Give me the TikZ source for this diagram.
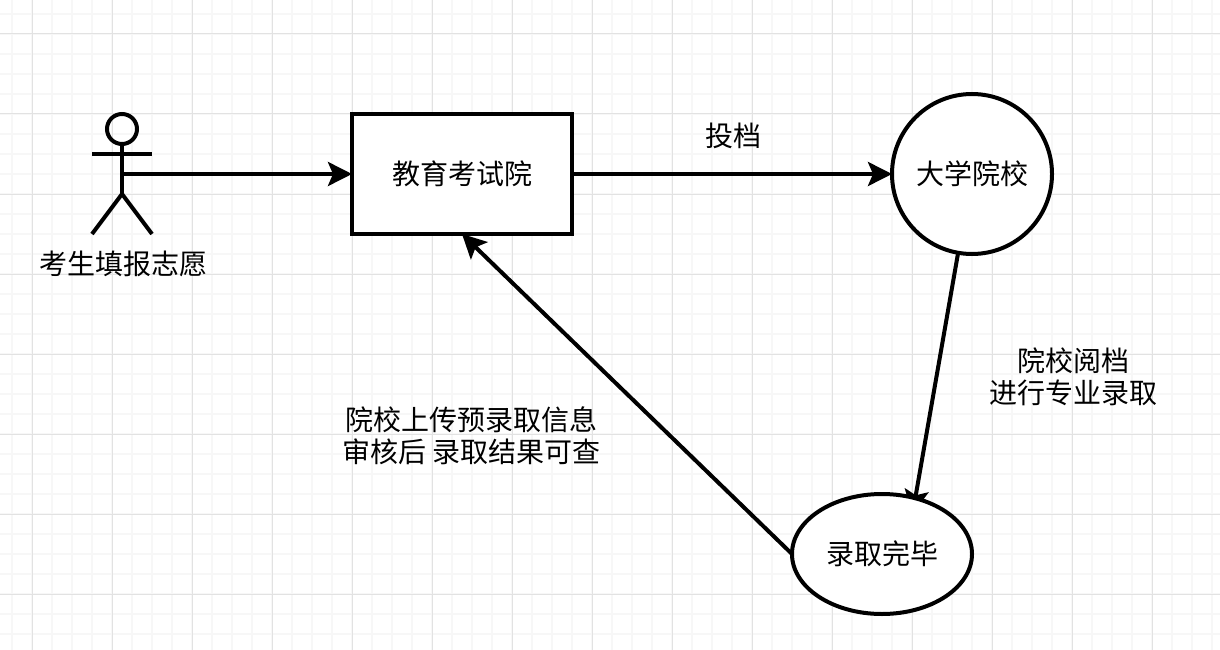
\documentclass[tikz,border=0pt]{standalone}
\usepackage{fontspec}
\setmainfont{Noto Sans CJK SC}
\usetikzlibrary{arrows.meta,shapes.geometric}
\pgfdeclarelayer{gridlayer}
\pgfdeclarelayer{linklayer}
\pgfsetlayers{gridlayer,linklayer,main}
\definecolor{gridmajor}{HTML}{E2E2E2}
\definecolor{gridminor}{HTML}{F7F7F7}
\tikzset{
  shapeline/.style={draw=black,line width=4pt,fill=white,inner sep=0pt,outer sep=0pt},
  label text/.style={font=\fontsize{28}{32}\selectfont,text=black,inner sep=0pt,align=center},
  link/.style={draw=black,line width=4pt,-{Stealth[length=24pt,width=24pt,inset=5pt]}},
  limb/.style={draw=black,line width=4pt}
}
\begin{document}
\begin{tikzpicture}[x=1pt,y=-1pt]
\useasboundingbox (0,0) rectangle (1220,650);
% nodes
\node[draw=black,line width=4pt,circle,minimum size=30pt,inner sep=0pt,outer sep=0pt] (head) at (122,129) {};
\coordinate (hip) at (122,194);
\coordinate (waist) at (122,174);
\coordinate (handL) at (92,154);
\coordinate (handR) at (152,154);
\coordinate (footL) at (92,234);
\coordinate (footR) at (152,234);
\draw[limb] (head.south) -- (hip);
\draw[limb] (handL) -- (handR);
\draw[limb] (footL) -- (hip) -- (footR);
\node[label text] (actorlabel) at (123,264) {考生填报志愿};
\node[shapeline,rectangle,minimum width=220pt,minimum height=120pt,label text] (exam) at (462,174) {教育考试院};
\node[shapeline,circle,minimum size=160pt,label text] (univ) at (972,174) {大学院校};
\node[shapeline,ellipse,minimum width=180pt,minimum height=120pt,label text] (done) at (882,554) {录取完毕};
\node[label text] (l1) at (733,136) {投档};
\node[label text] (l2) at (1073.5,376.5) {院校阅档\\进行专业录取};
\node[label text] (l3) at (471.5,436) {院校上传预录取信息\\审核后 录取结果可查};
% connectors
\begin{pgfonlayer}{linklayer}
\draw[link] (waist) -- (exam.west);
\draw[link] (exam.east) -- (univ.west);
\draw[link] (univ.260) -- ([shift={(30.5,-40)}]done.center);
\draw[link] (done.west) -- (exam.south);
\end{pgfonlayer}
% grid
\begin{pgfonlayer}{gridlayer}
\fill[white] (0,0) rectangle (1220,650);
\foreach \x in {12,32,...,1212} \draw[gridminor,line width=1.5pt] (\x,0) -- (\x,650);
\foreach \y in {14,34,...,634} \draw[gridminor,line width=1.5pt] (0,\y) -- (1220,\y);
\foreach \x in {32,112,...,1192} \draw[gridmajor,line width=1pt] (\x,0) -- (\x,650);
\foreach \y in {34,114,...,594} \draw[gridmajor,line width=1pt] (0,\y) -- (1220,\y);
\end{pgfonlayer}
\end{tikzpicture}
\end{document}
